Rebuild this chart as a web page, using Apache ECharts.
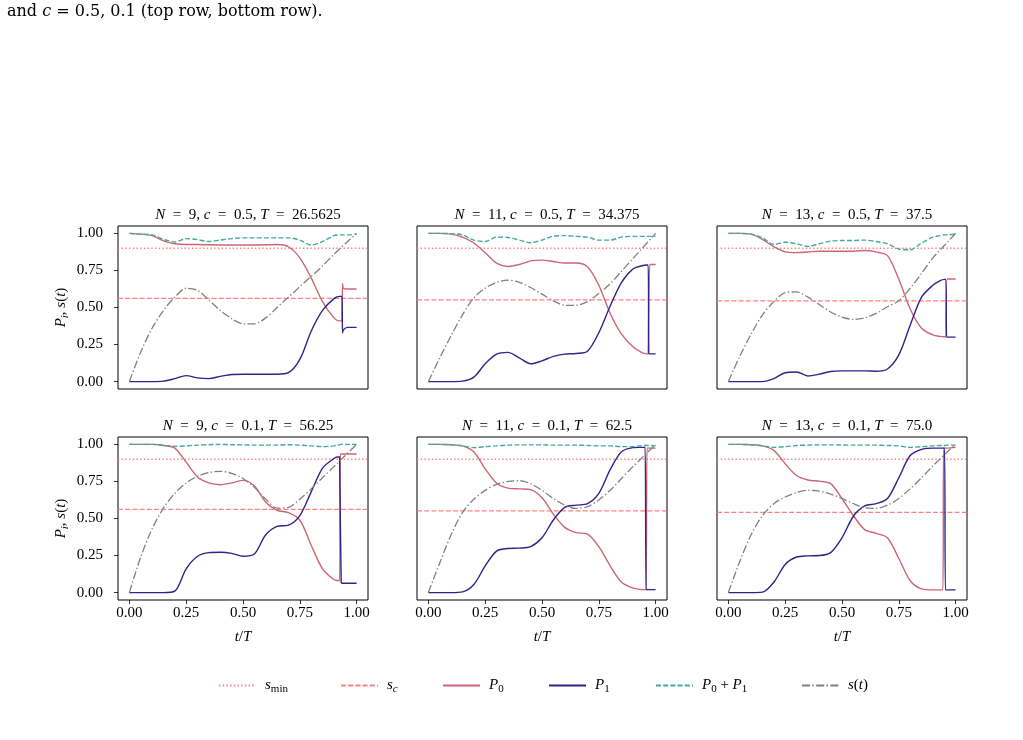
<!DOCTYPE html>
<html>
<head>
<meta charset="utf-8">
<title>P_i and s(t) for N = 9, 11, 13</title>
<script src="https://cdn.jsdelivr.net/npm/echarts@6/dist/echarts.min.js"></script>
<style>
  html, body { margin: 0; padding: 0; background: #fff; }
  #chart { width: 1023px; height: 740px; }
</style>
</head>
<body>
<div id="chart"></div>
<script>
// ---- data ----
const tickValues = [0, 0.25, 0.5, 0.75, 1];
const xLo = -0.05, xHi = 1.05;
const sMin = 0.9;
const scValues = [0.561, 0.551, 0.545, 0.562, 0.551, 0.541];
const titleN = ['9', '11', '13', '9', '11', '13'];
const titleC = ['0.5', '0.5', '0.5', '0.1', '0.1', '0.1'];
const titleT = ['26.5625', '34.375', '37.5', '56.25', '62.5', '75.0'];

const tBase = [0, .05, .1, .15, .2, .25, .3, .35, .4, .45, .5, .55, .6, .65, .7, .75, .8, .85, .9];

// N = 9, c = 0.5
const t1 = tBase.concat([.925, .935, .938, .942, .96, 1]);
const p0_1 = [1, .995, .985, .95, .93, .925, .925, .923, .922, .922, .922, .922, .923, .925, .91, .835, .70, .54, .43, .41, .41, .66, .63, .625, .625];
const p1_1 = [0, 0, 0, .003, .02, .04, .025, .02, .035, .048, .05, .05, .05, .05, .06, .15, .34, .48, .56, .575, .575, .33, .35, .366, .366];
const sum_1 = [1, .995, .99, .96, .942, .965, .958, .945, .955, .965, .97, .97, .97, .97, .97, .955, .922, .945, .985, .99, .99, .99, .99, .99, .995];
const s_1 = [0, .2, .36, .48, .57, .63, .615, .55, .48, .425, .39, .39, .43, .5, .57, .64, .71, .78, .86, .895, .91, .914, .92, .945, 1];

// N = 11, c = 0.5
const t2 = tBase.concat([.94, .96, .967, .970, .974, .978, 1]);
const p0_2 = [1, 1, .995, .975, .935, .87, .80, .777, .79, .815, .82, .81, .80, .80, .775, .65, .46, .32, .235, .195, .187, .186, .186, .79, .79, .79];
const p1_2 = [0, 0, 0, .003, .03, .12, .185, .197, .16, .12, .14, .17, .185, .19, .205, .33, .51, .67, .76, .782, .787, .787, .19, .187, .187, .187];
const sum_2 = [1, 1, .998, .99, .955, .945, .975, .972, .955, .937, .955, .982, .985, .98, .975, .955, .955, .975, .98, .98, .98, .98, .98, .98, .98, .98];
const s_2 = [0, .16, .31, .45, .565, .63, .67, .685, .67, .635, .59, .545, .515, .515, .54, .595, .66, .745, .83, .898, .932, .944, .949, .956, .963, 1];

// N = 13, c = 0.5
const t3 = tBase.concat([.93, .95, .957, .96, .963, 1]);
const p0_3 = [1, 1, .995, .96, .91, .875, .87, .875, .88, .88, .88, .88, .885, .875, .85, .69, .49, .36, .315, .305, .303, .303, .303, .692, .692];
const p1_3 = [0, 0, 0, 0, .02, .06, .065, .038, .05, .068, .072, .072, .072, .07, .085, .18, .38, .57, .65, .68, .69, .69, .30, .30, .30];
const sum_3 = [1, 1, .995, .97, .925, .94, .93, .912, .93, .948, .952, .952, .955, .945, .93, .895, .89, .935, .975, .985, .99, .99, .99, .99, .995];
const s_3 = [0, .17, .32, .45, .54, .60, .605, .57, .52, .47, .435, .42, .43, .46, .505, .545, .63, .73, .835, .885, .918, .93, .934, .939, 1];

// N = 9, c = 0.1
const t4 = tBase.concat([.915, .925, .928, .932, .936, .95, 1]);
const p0_4 = [1, 1, 1, .993, .975, .88, .78, .74, .728, .74, .757, .72, .61, .555, .54, .49, .32, .16, .088, .082, .082, .935, .935, .935, .935, .935];
const p1_4 = [0, 0, 0, 0, .01, .16, .245, .27, .272, .265, .245, .26, .39, .447, .455, .52, .68, .84, .905, .915, .915, .915, .07, .063, .063, .063];
const sum_4 = [1, 1, 1, .995, .987, .99, .995, .998, 1, .998, .997, .995, .995, .995, .998, .995, .99, .985, .99, .995, .997, 1, 1, 1, 1, 1];
const s_4 = [0, .24, .43, .57, .67, .74, .785, .81, .818, .805, .77, .71, .63, .57, .575, .63, .70, .775, .85, .872, .887, .892, .898, .904, .925, 1];

// N = 11, c = 0.1
const t5 = tBase.concat([.93, .95, .954, .958, .962, .966, 1]);
const p0_5 = [1, 1, .998, .99, .95, .835, .74, .705, .70, .695, .64, .53, .44, .405, .395, .31, .18, .07, .03, .022, .02, .02, .02, .975, .975, .975];
const p1_5 = [0, 0, 0, .005, .055, .18, .28, .298, .30, .31, .37, .49, .575, .59, .60, .67, .83, .95, .978, .98, .98, .98, .02, .02, .02, .02];
const sum_5 = [1, 1, .998, .99, .978, .985, .99, .995, .997, .997, .997, .995, .995, .995, .993, .99, .99, .985, .985, .99, .993, .993, .993, .993, .993, .99];
const s_5 = [0, .2, .39, .54, .63, .69, .73, .75, .755, .735, .69, .635, .59, .568, .58, .625, .69, .77, .85, .895, .925, .931, .937, .943, .949, 1];

// N = 13, c = 0.1
const t6 = tBase.concat([.93, .944, .947, .951, .955, .96, 1]);
const p0_6 = [1, 1, .998, .99, .96, .87, .79, .76, .752, .735, .635, .52, .425, .40, .37, .23, .08, .025, .018, .018, .018, .975, .975, .975, .975, .98];
const p1_6 = [0, 0, 0, .003, .07, .19, .24, .248, .25, .27, .37, .515, .585, .60, .635, .775, .925, .967, .975, .975, .975, .975, .975, .018, .018, .018];
const sum_6 = [1, 1, .998, .99, .98, .985, .993, .995, .997, .997, .996, .995, .995, .995, .993, .99, .98, .985, .99, .993, .993, .993, .993, .993, .995, .995];
const s_6 = [0, .21, .39, .52, .6, .645, .675, .69, .685, .665, .635, .6, .572, .568, .59, .635, .70, .775, .855, .9, .92, .925, .93, .937, .945, 1];

const panels = [
  { t: t1, p0: p0_1, p1: p1_1, sum: sum_1, s: s_1 },
  { t: t2, p0: p0_2, p1: p1_2, sum: sum_2, s: s_2 },
  { t: t3, p0: p0_3, p1: p1_3, sum: sum_3, s: s_3 },
  { t: t4, p0: p0_4, p1: p1_4, sum: sum_4, s: s_4 },
  { t: t5, p0: p0_5, p1: p1_5, sum: sum_5, s: s_5 },
  { t: t6, p0: p0_6, p1: p1_6, sum: sum_6, s: s_6 }
];

// ---- styling / layout ----
const FONT = '"Liberation Serif", "DejaVu Serif", serif';
const CAPTION_FONT = '"DejaVu Serif", serif';
const RED = '#ff8080', ROSE = '#cc6677', INDIGO = '#332288', TEAL = '#44aa99', GREY = '#808080';
const colLeft = [118, 417, 717];
const rowTop = [226, 437];
const boxW = 250, boxH = 163;

function rich(size, family) {
  const f = family || FONT;
  const sub = Math.round(size * 0.7);
  return {
    i: { fontFamily: f, fontStyle: 'italic', fontSize: size, color: '#000' },
    r: { fontFamily: f, fontSize: size, color: '#000' },
    sub: { fontFamily: f, fontSize: sub, color: '#000', padding: [Math.round(size * 0.55), 0, 0, 0] },
    subi: { fontFamily: f, fontStyle: 'italic', fontSize: sub, color: '#000', padding: [Math.round(size * 0.55), 0, 0, 0] }
  };
}

function pairs(t, v) {
  return t.map((x, j) => [x, v[j]]);
}

const grids = [], xAxes = [], yAxes = [], series = [], titles = [];

panels.forEach((p, k) => {
  const row = Math.floor(k / 3), col = k % 3;
  const bottom = row === 1, left = col === 0;
  grids.push({
    left: colLeft[col], top: rowTop[row], width: boxW, height: boxH,
    show: true, borderColor: '#000', borderWidth: 1, backgroundColor: 'transparent'
  });
  xAxes.push({
    gridIndex: k, type: 'value', min: xLo, max: xHi,
    axisLine: { show: false, onZero: false },
    splitLine: { show: false },
    axisTick: { show: bottom, length: 4, customValues: tickValues, lineStyle: { color: '#000', width: 0.8 } },
    axisLabel: {
      show: bottom, customValues: tickValues, margin: 6,
      formatter: v => v.toFixed(2), fontFamily: FONT, fontSize: 15, color: '#000'
    },
    name: bottom ? '{i|t}{r|/}{i|T}' : '',
    nameLocation: 'middle', nameGap: 30,
    nameTextStyle: { fontFamily: FONT, fontSize: 15, color: '#000', rich: rich(15) }
  });
  yAxes.push({
    gridIndex: k, type: 'value', min: xLo, max: xHi,
    axisLine: { show: false, onZero: false },
    splitLine: { show: false },
    axisTick: { show: left, length: 4, customValues: tickValues, lineStyle: { color: '#000', width: 0.8 } },
    axisLabel: {
      show: left, customValues: tickValues, margin: 15,
      formatter: v => v.toFixed(2), fontFamily: FONT, fontSize: 15, color: '#000'
    },
    name: left ? '{i|P}{subi|i}{r|, }{i|s}{r|(}{i|t}{r|)}' : '',
    nameLocation: 'middle', nameGap: 47,
    nameTextStyle: { fontFamily: FONT, fontSize: 15, color: '#000', rich: rich(15) }
  });
  titles.push({
    text: '{i|N}{r|\u2002=\u2002' + titleN[k] + ', }{i|c}{r|\u2002=\u2002' + titleC[k] + ', }{i|T}{r|\u2002=\u2002' + titleT[k] + '}',
    left: colLeft[col] + boxW / 2, top: rowTop[row] - 23, textAlign: 'center',
    textStyle: { fontFamily: FONT, fontSize: 15, fontWeight: 'normal', color: '#000', rich: rich(15) }
  });

  const base = { type: 'line', xAxisIndex: k, yAxisIndex: k, symbol: 'none', silent: true, animation: false };
  series.push(
    Object.assign({}, base, {
      name: 's_min', data: [[xLo, sMin], [xHi, sMin]],
      itemStyle: { color: RED }, lineStyle: { color: RED, width: 1.3, type: [1.4, 2.3] }
    }),
    Object.assign({}, base, {
      name: 's_c', data: [[xLo, scValues[k]], [xHi, scValues[k]]],
      itemStyle: { color: RED }, lineStyle: { color: RED, width: 1.3, type: [5, 2.2] }
    }),
    Object.assign({}, base, {
      name: 'P0', data: pairs(p.t, p.p0), smooth: 0.3,
      itemStyle: { color: ROSE }, lineStyle: { color: ROSE, width: 1.4 }
    }),
    Object.assign({}, base, {
      name: 'P1', data: pairs(p.t, p.p1), smooth: 0.3,
      itemStyle: { color: INDIGO }, lineStyle: { color: INDIGO, width: 1.4 }
    }),
    Object.assign({}, base, {
      name: 'P0+P1', data: pairs(p.t, p.sum), smooth: 0.3,
      itemStyle: { color: TEAL }, lineStyle: { color: TEAL, width: 1.4, type: [5, 2.2] }
    }),
    Object.assign({}, base, {
      name: 's(t)', data: pairs(p.t, p.s), smooth: 0.3,
      itemStyle: { color: GREY }, lineStyle: { color: GREY, width: 1.3, type: [8, 2.4, 1.4, 2.4] }
    })
  );
});

// legend: one component per entry so each sits where it does in the figure
const legendNames = ['s_min', 's_c', 'P0', 'P1', 'P0+P1', 's(t)'];
const legendLabels = {
  's_min': '{i|s}{sub|min}',
  's_c': '{i|s}{subi|c}',
  'P0': '{i|P}{sub|0}',
  'P1': '{i|P}{sub|1}',
  'P0+P1': '{i|P}{sub|0}{r| + }{i|P}{sub|1}',
  's(t)': '{i|s}{r|(}{i|t}{r|)}'
};
const legendLeft = [213, 335, 437, 543, 650, 796];
const legends = legendNames.map((name, k) => ({
  data: [name], left: legendLeft[k], top: 673,
  itemWidth: 37, itemHeight: 14, selectedMode: false,
  itemStyle: { opacity: 0 },
  formatter: n => legendLabels[n],
  textStyle: { fontFamily: FONT, fontSize: 15, color: '#000', padding: [0, 0, 0, 4], rich: rich(15) }
}));

const chart = echarts.init(document.getElementById('chart'), null, { renderer: 'canvas' });
chart.setOption({
  animation: false,
  backgroundColor: '#fff',
  title: titles,
  grid: grids,
  xAxis: xAxes,
  yAxis: yAxes,
  legend: legends,
  series: series,
  graphic: [{
    type: 'text', left: 7, top: 4,
    style: {
      text: '{r|and }{i|c}{r| = 0.5, 0.1 (top row, bottom row).}',
      rich: rich(16, CAPTION_FONT)
    }
  }]
});
</script>
</body>
</html>
